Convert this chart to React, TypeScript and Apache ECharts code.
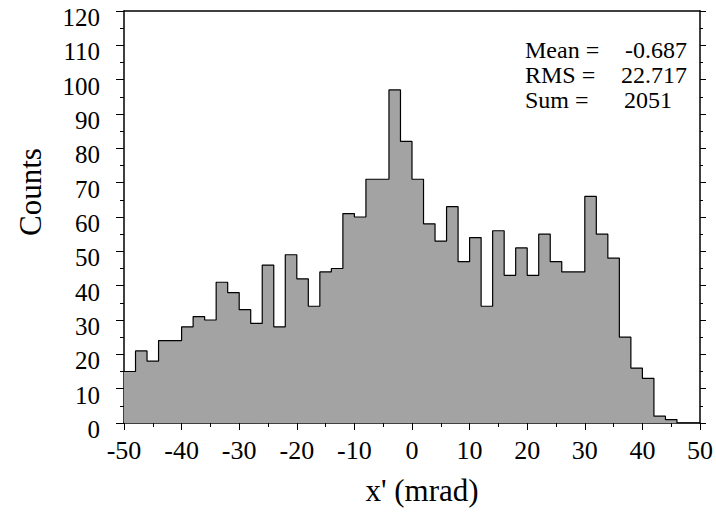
import React, { useEffect, useRef } from "react";
import * as echarts from "echarts";

// Histogram bins: left edges (mrad), bin width 2
const binEdges: number[] = [
  -50, -48, -46, -44, -42, -40, -38, -36, -34, -32,
  -30, -28, -26, -24, -22, -20, -18, -16, -14, -12,
  -10, -8, -6, -4, -2, 0, 2, 4, 6, 8,
  10, 12, 14, 16, 18, 20, 22, 24, 26, 28,
  30, 32, 34, 36, 38, 40, 42, 44, 46, 48,
];
const counts: number[] = [
  15, 21, 18, 24, 24, 28, 31, 30, 41, 38,
  33, 29, 46, 28, 49, 42, 34, 44, 45, 61,
  60, 71, 71, 97, 82, 71, 58, 53, 63, 47,
  54, 34, 56, 43, 51, 43, 55, 47, 44, 44,
  66, 55, 48, 25, 16, 13, 2, 1, 0, 0,
];
const xEnd = 50;
const statLabels: string[] = ["Mean =", "RMS =", "Sum ="];
const statValues: string[] = ["-0.687", "22.717", "2051"];

const FONT = "'Liberation Serif', 'Times New Roman', serif";

export default function App() {
  const ref = useRef<HTMLDivElement>(null);
  useEffect(() => {
    document.body.style.margin = "0";
    const chart = echarts.init(ref.current!, undefined, { renderer: "svg" });
    const data: number[][] = binEdges.map((x, i) => [x, counts[i]]);
    data.push([xEnd, 0]);
    const statY = [50, 75, 100];
    const statValX = [687, 687, 672];
    const graphics: any[] = [];
    statLabels.forEach((s, i) => {
      graphics.push({
        type: "text",
        x: 525,
        y: statY[i],
        style: {
          text: s,
          font: `24px ${FONT}`,
          fill: "#000",
          verticalAlign: "middle",
          lineHeight: 22,
        },
      });
      graphics.push({
        type: "text",
        x: statValX[i],
        y: statY[i],
        style: {
          text: statValues[i],
          font: `24px ${FONT}`,
          fill: "#000",
          align: "right",
          verticalAlign: "middle",
          lineHeight: 22,
        },
      });
    });
    graphics.push({
      type: "text",
      x: 30,
      y: 192,
      rotation: Math.PI / 2,
      style: {
        text: "Counts",
        font: `31px ${FONT}`,
        fill: "#000",
        align: "center",
        verticalAlign: "middle",
      },
    });
    graphics.push({
      type: "text",
      x: 422,
      y: 490,
      style: {
        text: "x' (mrad)",
        font: `31px ${FONT}`,
        fill: "#000",
        align: "center",
        verticalAlign: "middle",
      },
    });
    const axisLine = { show: true, onZero: false, lineStyle: { color: "#000", width: 1.5 } };
    chart.setOption({
      animation: false,
      grid: { left: 124, right: 16, top: 11, bottom: 89 },
      xAxis: [
        {
          type: "value",
          min: -50,
          max: 50,
          interval: 10,
          position: "bottom",
          axisLine,
          axisTick: { show: true, length: 7, lineStyle: { color: "#000", width: 1 } },
          minorTick: { show: true, splitNumber: 2, length: 4, lineStyle: { color: "#000", width: 1 } },
          splitLine: { show: false },
          axisLabel: { fontFamily: FONT, fontSize: 26, color: "#000", margin: 14 },
        },
        {
          type: "value",
          min: -50,
          max: 50,
          interval: 10,
          position: "top",
          axisLine,
          axisTick: { show: false },
          axisLabel: { show: false },
          splitLine: { show: false },
        },
      ],
      yAxis: [
        {
          type: "value",
          min: 0,
          max: 120,
          interval: 10,
          position: "left",
          axisLine,
          axisTick: { show: true, length: 8, lineStyle: { color: "#000", width: 1 } },
          minorTick: { show: true, splitNumber: 2, length: 4, lineStyle: { color: "#000", width: 1 } },
          splitLine: { show: false },
          axisLabel: {
            color: "#000",
            margin: 24,
            formatter: (v: number) => `{a|${v}}`,
            rich: {
              a: {
                fontFamily: FONT,
                fontSize: 25,
                color: "#000",
                padding: [13, 0, 0, 0],
              },
            },
          },
        },
        {
          type: "value",
          min: 0,
          max: 120,
          interval: 10,
          position: "right",
          axisLine,
          axisTick: { show: true, length: 6, lineStyle: { color: "#000", width: 1 } },
          minorTick: { show: true, splitNumber: 2, length: 3, lineStyle: { color: "#000", width: 1 } },
          splitLine: { show: false },
          axisLabel: { show: false },
        },
      ],
      series: [
        {
          type: "line",
          step: "end",
          data,
          symbol: "none",
          lineStyle: { color: "#000", width: 1.2 },
          areaStyle: { color: "#a3a3a3", opacity: 1 },
          z: 1,
        },
      ],
      graphic: graphics,
    });
    return () => chart.dispose();
  }, []);
  return <div ref={ref} style={{ width: 716, height: 512 }} />;
}
